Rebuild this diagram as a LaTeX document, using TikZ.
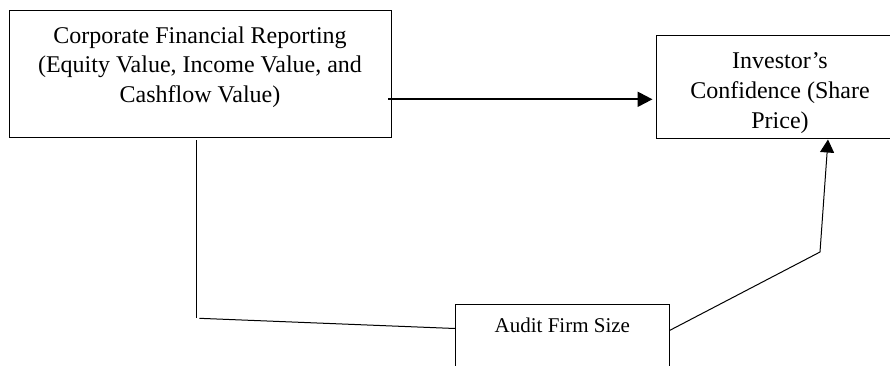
\documentclass[tikz,border=0pt]{standalone}
\usepackage{fontspec}
\setmainfont{Liberation Serif}
\usetikzlibrary{arrows.meta,calc}
\begin{document}
\begin{tikzpicture}[x=1pt,y=-1pt,
  box/.style={draw=black,line width=1pt,rectangle,inner sep=0pt},
  txt/.style={anchor=base,inner sep=0pt},
  link/.style={line width=1pt},
  bigarrow/.style={line width=2.2pt,-{Triangle[length=15pt,width=15pt]}},
  smallarrow/.style={line width=1pt,-{Triangle[length=13pt,width=14pt]}}]
\useasboundingbox (0,0) rectangle (890,365);
% boxes
\node[box,minimum width=382pt,minimum height=127pt] (crf) at (200,73.5) {};
\node[box,minimum width=248pt,minimum height=103pt] (inv) at (780,86.5) {};
\node[box,minimum width=213.3pt,minimum height=120pt] (afs) at (562.35,364) {};
% texts
\node[txt] (crft) at (200,43) {\fontsize{24}{29.5}\selectfont\begin{tabular}[t]{@{}c@{}}Corporate Financial Reporting\\(Equity Value, Income Value, and\\Cashflow Value)\end{tabular}};
\node[txt] (invt) at (780,68) {\fontsize{24}{30}\selectfont\begin{tabular}[t]{@{}c@{}}Investor’s\\Confidence (Share\\Price)\end{tabular}};
\node[txt] (afst) at (562.35,332) {\fontsize{21}{25}\selectfont Audit Firm Size};
% connectors
\coordinate (h1) at (388,99.3);
\draw[bigarrow,shorten >=3pt] (h1) -- (h1 -| inv.west);
\coordinate (v1) at (196,140);
\coordinate (v2) at (196,318);
\draw[link] (v1) -- (v2);
\coordinate (b1) at (199.3,318.3);
\draw[link] (b1) -- ([yshift=-25pt]afs.north west);
\coordinate (bend) at (820,252);
\draw[smallarrow] ([yshift=-27pt]afs.north east) -- (bend) -- ([xshift=48pt,yshift=-1pt]inv.south);
\end{tikzpicture}
\end{document}
